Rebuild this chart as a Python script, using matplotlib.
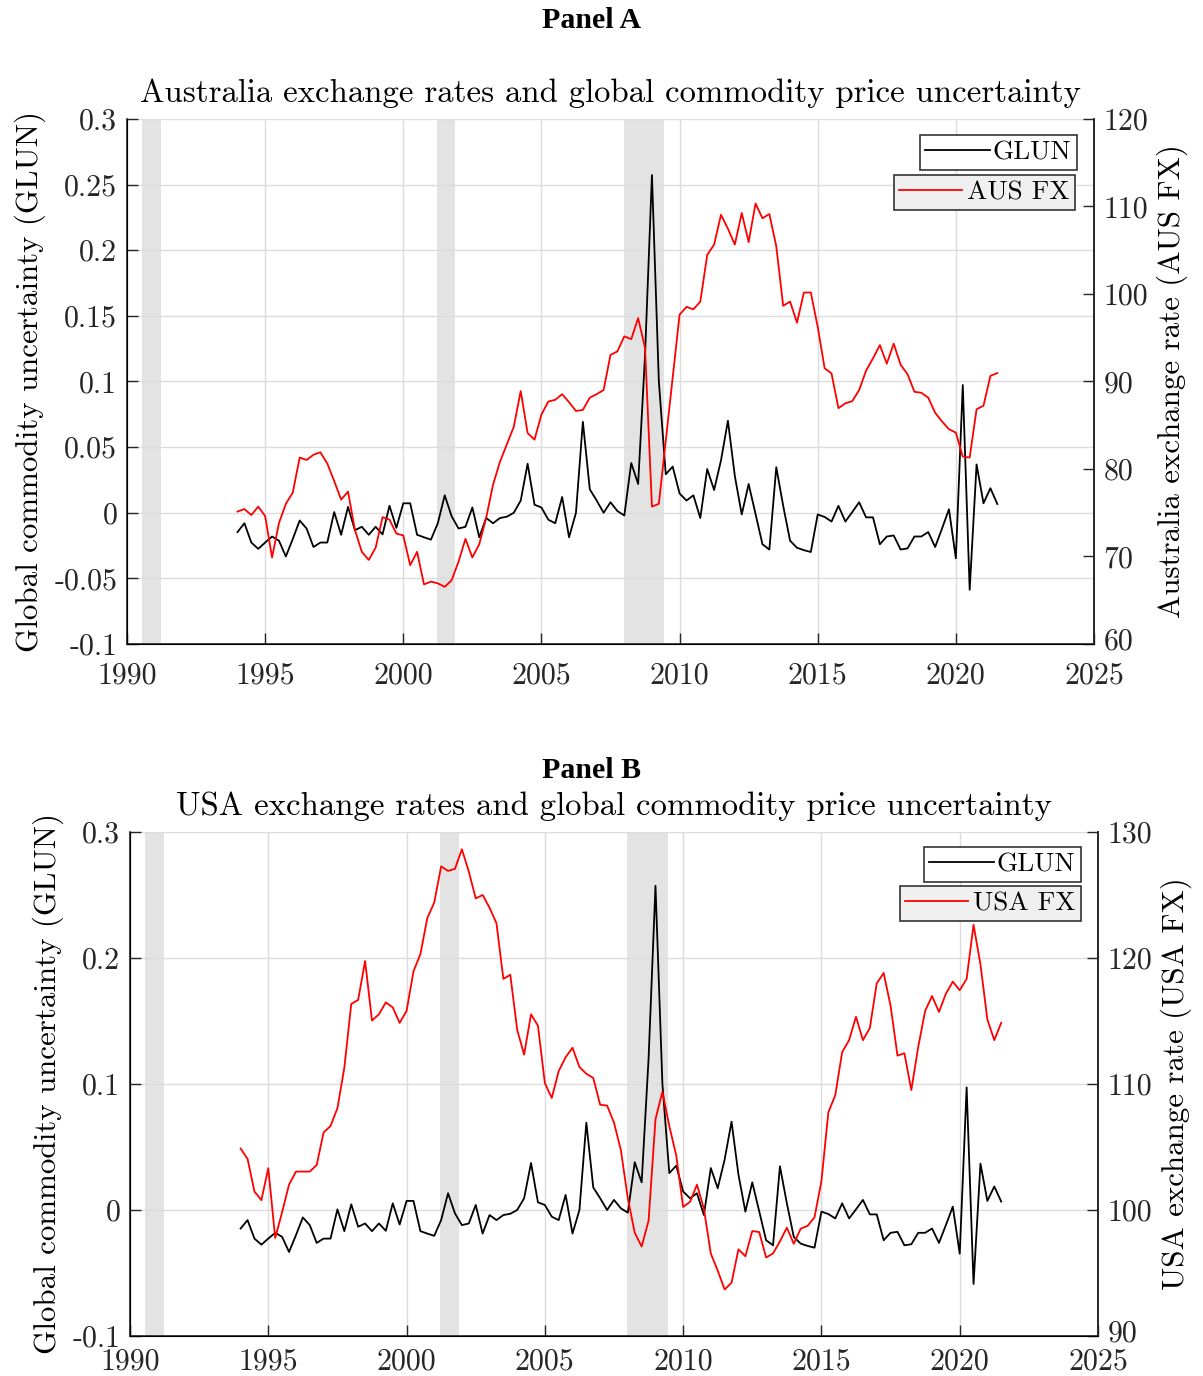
import numpy as np
import matplotlib
matplotlib.use('Agg')
import matplotlib.pyplot as plt
import matplotlib.transforms as mtransforms

plt.rcParams['font.family'] = ['cmr10', 'DejaVu Serif']
plt.rcParams['axes.unicode_minus'] = False
plt.rcParams['mathtext.fontset'] = 'cm'

# quarterly observations, 1994Q1 .. 2021Q3
start_year = 1994.0

glun = [-0.0147, -0.0080, -0.0227, -0.0275, -0.0227, -0.0181, -0.0213, -0.0333,
        -0.0200, -0.0059, -0.0120, -0.0261, -0.0227, -0.0227, 0.0005, -0.0168,
        0.0045, -0.0133, -0.0107, -0.0168, -0.0107, -0.0165, 0.0053, -0.0115,
        0.0072, 0.0072, -0.0168, -0.0187, -0.0205, -0.0080, 0.0133, -0.0027,
        -0.0120, -0.0107, 0.0040, -0.0187, -0.0040, -0.0080, -0.0040, -0.0030,
        0.0000, 0.0093, 0.0373, 0.0061, 0.0040, -0.0053, -0.0080, 0.0120,
        -0.0187, 0.0000, 0.0693, 0.0179, 0.0093, 0.0000, 0.0080, 0.0013,
        -0.0021, 0.0379, 0.0219, 0.1200, 0.2573, 0.1000, 0.0293, 0.0352,
        0.0147, 0.0093, 0.0133, -0.0040, 0.0333, 0.0173, 0.0400, 0.0701,
        0.0280, -0.0013, 0.0219, -0.0010, -0.0240, -0.0280, 0.0347, 0.0053,
        -0.0213, -0.0267, -0.0285, -0.0299, -0.0013, -0.0032, -0.0067, 0.0053,
        -0.0067, 0.0005, 0.0080, -0.0035, -0.0035, -0.0240, -0.0181, -0.0173,
        -0.0280, -0.0272, -0.0181, -0.0181, -0.0147, -0.0261, -0.0120, 0.0027,
        -0.0347, 0.0973, -0.0587, 0.0368, 0.0072, 0.0187, 0.0067]

aus_fx = [75.14, 75.42, 74.74, 75.70, 74.62, 69.89, 73.82, 76.02,
          77.30, 81.31, 81.03, 81.63, 81.91, 80.62, 78.62, 76.50,
          77.42, 73.02, 70.53, 69.61, 71.01, 74.50, 74.22, 72.62,
          72.41, 69.01, 70.53, 66.81, 67.13, 66.93, 66.53, 67.29,
          69.41, 72.01, 69.89, 71.41, 74.42, 78.22, 80.83, 82.83,
          84.83, 88.91, 84.11, 83.35, 86.23, 87.71, 87.91, 88.55,
          87.63, 86.63, 86.75, 88.15, 88.55, 89.03, 93.04, 93.44,
          95.16, 94.84, 97.24, 93.84, 75.70, 76.02, 83.23, 90.44,
          97.64, 98.53, 98.25, 99.13, 104.45, 105.65, 109.06, 107.46,
          105.65, 109.26, 105.93, 110.34, 108.66, 109.14, 105.45, 98.65,
          99.13, 96.72, 100.17, 100.17, 96.24, 91.52, 90.92, 86.95,
          87.51, 87.75, 89.03, 91.24, 92.64, 94.16, 92.04, 94.32,
          91.92, 90.84, 88.83, 88.71, 88.15, 86.43, 85.43, 84.55,
          84.15, 81.43, 81.31, 86.83, 87.23, 90.64, 90.96]

usa_fx = [104.88, 104.06, 101.47, 100.78, 103.32, 97.78, 99.83, 102.01,
          103.05, 103.05, 103.05, 103.57, 106.16, 106.66, 108.08, 111.30,
          116.35, 116.68, 119.76, 115.04, 115.53, 116.48, 116.08, 114.85,
          115.80, 118.94, 120.31, 123.17, 124.40, 127.27, 126.91, 127.08,
          128.63, 126.86, 124.73, 125.00, 123.99, 122.76, 118.34, 118.67,
          114.30, 112.33, 115.53, 114.63, 110.07, 108.89, 111.02, 112.12,
          112.88, 111.35, 110.81, 110.48, 108.35, 108.29, 106.93, 104.74,
          100.92, 98.19, 97.10, 99.15, 107.20, 109.39, 106.66, 104.33,
          100.24, 100.65, 102.01, 100.10, 96.55, 95.19, 93.69, 94.23,
          96.88, 96.33, 98.33, 98.25, 96.23, 96.55, 97.51, 98.60,
          97.32, 98.52, 98.74, 99.42, 102.29, 107.75, 109.11, 112.53,
          113.48, 115.34, 113.48, 114.44, 117.99, 118.81, 116.21, 112.25,
          112.44, 109.52, 112.94, 115.80, 116.98, 115.72, 117.17, 118.12,
          117.44, 118.34, 122.63, 119.49, 115.12, 113.48, 114.85]

# recession bands (start, end)
recessions = [(1990.55, 1991.22), (2001.21, 2001.88), (2007.98, 2009.45)]

years = start_year + np.arange(len(glun)) / 4.0

TICK_FS = 21.5
LABEL_FS = 22.3
TITLE_FS = 23.6
LEG_FS = 19.5
W, H = 1203, 1376
fig = plt.figure(figsize=(W / 100, H / 100), dpi=100)


def px_rect(l, t, r, b):
    return [l / W, 1 - b / H, (r - l) / W, (b - t) / H]


def draw_panel(rect, title, fx, fx_name, fx_lim, fx_ticks, right_label,
               left_ticks, left_labels, leg_pos, xpad):
    ax = fig.add_axes(rect)
    for a, b in recessions:
        ax.axvspan(a, b, color='#e3e3e3', lw=0, zorder=0.2)
    h1, = ax.plot(years, glun, color='k', lw=1.3, zorder=3)
    ax.set_xlim(1990, 2025)
    ax.set_ylim(-0.1, 0.3)
    ax.set_xticks(np.arange(1990, 2026, 5))
    ax.set_xticklabels([str(y) for y in range(1990, 2026, 5)])
    ax.set_yticks(left_ticks)
    ax.set_yticklabels(left_labels)
    ax.set_axisbelow(True)
    ax.grid(True, color='#dcdcdc', lw=1.0)
    ax.tick_params(direction='in', length=8, width=1, labelsize=TICK_FS,
                   colors='#262626', pad=7)
    ax.tick_params(axis='x', pad=xpad)
    for s in ['left', 'bottom', 'right']:
        ax.spines[s].set_color('#262626')
        ax.spines[s].set_linewidth(1.2)
    ax.spines['top'].set_visible(False)
    ax.set_ylabel('Global commodity uncertainty (GLUN)', fontsize=LABEL_FS,
                  labelpad=6)
    ax.set_title(title, fontsize=TITLE_FS, pad=12)

    ax2 = ax.twinx()
    h2, = ax2.plot(years, fx, color='#ff0000', lw=1.3)
    ax2.set_ylim(*fx_lim)
    ax2.set_yticks(fx_ticks)
    ax2.set_yticklabels([str(v) for v in fx_ticks])
    ax2.tick_params(direction='in', length=8, width=1, labelsize=TICK_FS,
                    colors='#262626', pad=7)
    ax2.spines['top'].set_visible(False)
    ax2.spines['right'].set_color('#262626')
    ax2.spines['right'].set_linewidth(1.2)
    ax2.set_ylabel(right_label, fontsize=LABEL_FS, labelpad=6)
    # lift the lowest right-hand label a little, clear of the last year label
    low = ax2.get_yticklabels()[0]
    low.set_transform(low.get_transform() + mtransforms.ScaledTranslation(
        0, 4 / 72, fig.dpi_scale_trans))

    (x1, y1), (x2, y2) = leg_pos
    leg1 = ax2.legend([h1], ['GLUN'], loc='upper right',
                      bbox_to_anchor=(x1 / W, 1 - y1 / H),
                      bbox_transform=fig.transFigure, fontsize=LEG_FS,
                      fancybox=False, framealpha=1, edgecolor='#333333',
                      facecolor='white', borderaxespad=0, borderpad=0.2,
                      handlelength=2.4, handletextpad=0.1)
    leg1.get_frame().set_linewidth(1.2)
    ax2.add_artist(leg1)
    leg2 = ax2.legend([h2], [fx_name], loc='upper right',
                      bbox_to_anchor=(x2 / W, 1 - y2 / H),
                      bbox_transform=fig.transFigure, fontsize=LEG_FS,
                      fancybox=False, framealpha=1, edgecolor='#333333',
                      facecolor='#f0f0f0', borderaxespad=0, borderpad=0.2,
                      handlelength=2.3, handletextpad=0.2)
    leg2.get_frame().set_linewidth(1.2)
    return ax, ax2


draw_panel(px_rect(127, 119, 1094, 644),
           'Australia exchange rates and global commodity price uncertainty',
           aus_fx, 'AUS FX', (60, 120), list(range(60, 121, 10)),
           'Australia exchange rate (AUS FX)',
           np.arange(-0.1, 0.301, 0.05),
           ['-0.1', '-0.05', '0', '0.05', '0.1', '0.15', '0.2', '0.25', '0.3'],
           ((1077, 135), (1075, 175)), 13)

draw_panel(px_rect(130, 832, 1098, 1336),
           'USA exchange rates and global commodity price uncertainty',
           usa_fx, 'USA FX', (90, 130), list(range(90, 131, 10)),
           'USA exchange rate (USA FX)',
           np.arange(-0.1, 0.301, 0.1),
           ['-0.1', '0', '0.1', '0.2', '0.3'],
           ((1081, 847), (1081, 886)), 9)

fig.text(592 / W, 1 - 20 / H, 'Panel A', ha='center', va='center',
         fontsize=21.5, fontweight='bold', family='Liberation Serif')
fig.text(592 / W, 1 - 770 / H, 'Panel B', ha='center', va='center',
         fontsize=21.5, fontweight='bold', family='Liberation Serif')

fig.savefig('out.png', dpi=100)
